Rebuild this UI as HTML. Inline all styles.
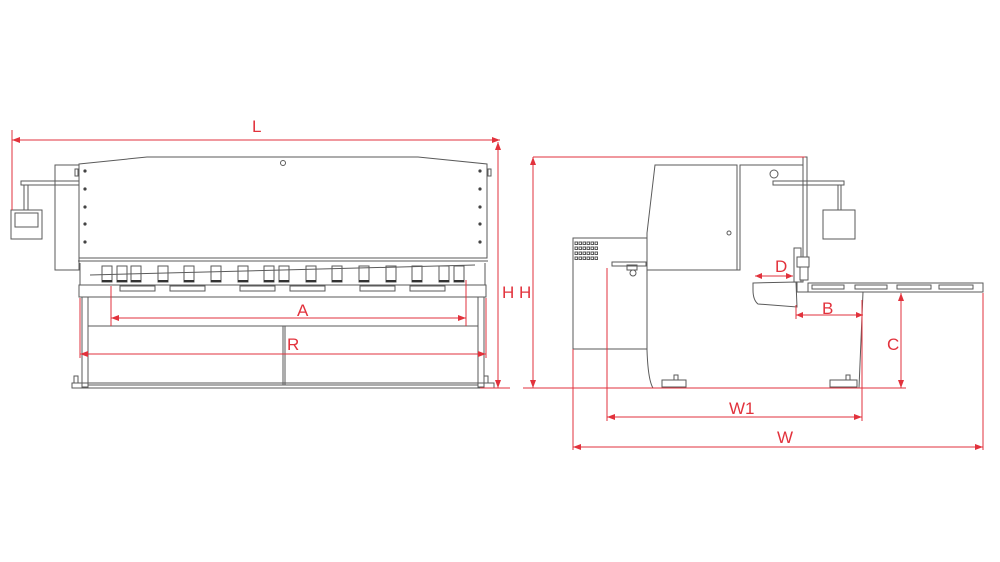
<!DOCTYPE html>
<html><head><meta charset="utf-8"><style>
html,body{margin:0;padding:0;background:#fff;}
svg{display:block;}
.g{fill:none;stroke:#5a5a5a;stroke-width:1;}
.gf{fill:#fff;stroke:#5a5a5a;stroke-width:1;}
.r{fill:none;stroke:#e2323c;stroke-width:1;}
.t{fill:#e2323c;font-family:"Liberation Sans",sans-serif;font-size:17px;}
.ah{fill:#e2323c;}
</style></head><body>
<svg width="1000" height="562" viewBox="0 0 1000 562" xmlns="http://www.w3.org/2000/svg">
<rect class="g" x="55" y="165" width="24" height="105"/>
<rect class="g" x="21" y="181" width="58" height="4"/>
<rect class="g" x="24" y="185" width="4" height="25"/>
<rect class="gf" x="11" y="210" width="31" height="29"/>
<rect class="g" x="15" y="213" width="23" height="14"/>
<path class="gf" d="M79 164 L147 157 L418 157 L487 164 L487 258 L79 258 Z"/>
<line class="g" x1="78" y1="261" x2="488" y2="261"/>
<circle class="g" cx="283" cy="163" r="2.5"/>
<g fill="#444">
<circle cx="85" cy="171" r="1.6"/><circle cx="85" cy="189" r="1.6"/><circle cx="85" cy="207" r="1.6"/><circle cx="85" cy="224" r="1.6"/><circle cx="85" cy="242" r="1.6"/>
<circle cx="480" cy="171" r="1.6"/><circle cx="480" cy="189" r="1.6"/><circle cx="480" cy="207" r="1.6"/><circle cx="480" cy="224" r="1.6"/><circle cx="480" cy="242" r="1.6"/>
</g>
<rect class="g" x="75" y="169" width="3" height="7"/>
<rect class="g" x="488" y="169" width="3" height="7"/>
<line class="g" x1="80" y1="263" x2="80" y2="285"/><line class="g" x1="485" y1="263" x2="485" y2="285"/>
<line class="g" x1="90" y1="275" x2="475" y2="265"/>
<g class="g">
<rect x="102" y="266" width="10" height="16"/><rect x="117" y="266" width="10" height="16"/><rect x="131" y="266" width="10" height="16"/>
<rect x="158" y="266" width="10" height="16"/><rect x="184" y="266" width="10" height="16"/><rect x="211" y="266" width="10" height="16"/>
<rect x="238" y="266" width="10" height="16"/><rect x="264" y="266" width="10" height="16"/><rect x="279" y="266" width="10" height="16"/>
<rect x="306" y="266" width="10" height="16"/><rect x="332" y="266" width="10" height="16"/><rect x="359" y="266" width="10" height="16"/>
<rect x="386" y="266" width="10" height="16"/><rect x="412" y="266" width="10" height="16"/><rect x="439" y="266" width="10" height="16"/>
<rect x="454" y="266" width="10" height="16"/>
</g>
<g stroke="#333" stroke-width="2">
<line x1="102" y1="281" x2="112" y2="281"/><line x1="117" y1="281" x2="127" y2="281"/><line x1="131" y1="281" x2="141" y2="281"/><line x1="158" y1="281" x2="168" y2="281"/><line x1="184" y1="281" x2="194" y2="281"/><line x1="211" y1="281" x2="221" y2="281"/><line x1="238" y1="281" x2="248" y2="281"/><line x1="264" y1="281" x2="274" y2="281"/><line x1="279" y1="281" x2="289" y2="281"/><line x1="306" y1="281" x2="316" y2="281"/><line x1="332" y1="281" x2="342" y2="281"/><line x1="359" y1="281" x2="369" y2="281"/><line x1="386" y1="281" x2="396" y2="281"/><line x1="412" y1="281" x2="422" y2="281"/><line x1="439" y1="281" x2="449" y2="281"/><line x1="454" y1="281" x2="464" y2="281"/>
</g>
<rect class="gf" x="79" y="285" width="407" height="12"/>
<g class="g">
<rect x="120" y="286" width="35" height="5"/><rect x="170" y="286" width="35" height="5"/><rect x="240" y="286" width="35" height="5"/>
<rect x="290" y="286" width="35" height="5"/><rect x="360" y="286" width="35" height="5"/><rect x="410" y="286" width="35" height="5"/>
</g>
<rect class="g" x="82" y="297" width="6" height="90"/>
<rect class="g" x="478" y="297" width="6" height="90"/>
<rect class="g" x="88" y="326" width="390" height="59"/>
<line class="g" x1="283" y1="326" x2="283" y2="385"/>
<line class="g" x1="285" y1="326" x2="285" y2="385"/>
<rect class="g" x="72" y="383" width="422" height="5"/>
<rect class="g" x="74" y="376" width="4" height="7"/>
<rect class="g" x="484" y="376" width="4" height="7"/>
<line class="r" x1="12" y1="130" x2="12" y2="210"/>
<line class="r" x1="12" y1="140" x2="500" y2="140"/>
<path class="ah" d="M12 140 l8 -3 v6 Z M500 140 l-8 -3 v6 Z"/>
<text class="t" x="252" y="132">L</text>
<line class="r" x1="111" y1="286" x2="111" y2="326"/>
<line class="r" x1="466" y1="280" x2="466" y2="326"/>
<line class="r" x1="111" y1="318" x2="466" y2="318"/>
<path class="ah" d="M111 318 l8 -3 v6 Z M466 318 l-8 -3 v6 Z"/>
<text class="t" x="297" y="316">A</text>
<line class="r" x1="80" y1="298" x2="80" y2="358"/>
<line class="r" x1="486" y1="298" x2="486" y2="358"/>
<line class="r" x1="80" y1="354" x2="486" y2="354"/>
<path class="ah" d="M80 354 l8 -3 v6 Z M486 354 l-8 -3 v6 Z"/>
<text class="t" x="287" y="350">R</text>
<line class="r" x1="498" y1="142" x2="498" y2="388"/>
<path class="ah" d="M498 142 l-3 8 h6 Z M498 388 l-3 -8 h6 Z"/>
<line class="r" x1="480" y1="388" x2="510" y2="388"/>
<text class="t" x="502" y="298">H H</text>

<rect class="gf" x="573" y="238" width="74" height="111"/>
<g class="g" stroke-width="0.8">
<rect x="575" y="242" width="2.5" height="2.5"/><rect x="579" y="242" width="2.5" height="2.5"/><rect x="583" y="242" width="2.5" height="2.5"/><rect x="587" y="242" width="2.5" height="2.5"/><rect x="591" y="242" width="2.5" height="2.5"/><rect x="595" y="242" width="2.5" height="2.5"/>
<rect x="575" y="247" width="2.5" height="2.5"/><rect x="579" y="247" width="2.5" height="2.5"/><rect x="583" y="247" width="2.5" height="2.5"/><rect x="587" y="247" width="2.5" height="2.5"/><rect x="591" y="247" width="2.5" height="2.5"/><rect x="595" y="247" width="2.5" height="2.5"/>
<rect x="575" y="252" width="2.5" height="2.5"/><rect x="579" y="252" width="2.5" height="2.5"/><rect x="583" y="252" width="2.5" height="2.5"/><rect x="587" y="252" width="2.5" height="2.5"/><rect x="591" y="252" width="2.5" height="2.5"/><rect x="595" y="252" width="2.5" height="2.5"/>
<rect x="575" y="257" width="2.5" height="2.5"/><rect x="579" y="257" width="2.5" height="2.5"/><rect x="583" y="257" width="2.5" height="2.5"/><rect x="587" y="257" width="2.5" height="2.5"/><rect x="591" y="257" width="2.5" height="2.5"/><rect x="595" y="257" width="2.5" height="2.5"/>
</g>
<path class="gf" d="M655 165 L737 165 L737 270 L740 270 L740 165 L803 165 L803 282 L797 282 L797 292 L863 292 L859 388 L653 388 Q648 380 647 350 L647 233 Z"/>
<line class="g" x1="647" y1="270" x2="737" y2="270"/>
<circle class="g" cx="729" cy="233" r="2"/>
<rect class="g" x="612" y="262" width="34" height="4"/>
<circle class="g" cx="633" cy="273" r="3"/>
<rect class="g" x="627" y="265" width="10" height="5"/>
<path class="gf" d="M753 283 L796 282 L797 307 L758 304 Q753 300 753 290 Z"/>
<rect class="gf" x="803" y="157" width="4" height="103"/>
<circle class="g" cx="774" cy="174" r="4"/>
<rect class="g" x="773" y="181" width="71" height="4"/>
<rect class="g" x="838" y="185" width="3" height="25"/>
<rect class="gf" x="823" y="210" width="32" height="29"/>
<rect class="gf" x="794" y="248" width="7" height="34"/>
<rect class="gf" x="797" y="257" width="12" height="10"/>
<rect class="gf" x="800" y="267" width="8" height="13"/>
<rect class="gf" x="808" y="283" width="175" height="9"/>
<g class="g"><rect x="812" y="285" width="32" height="4"/><rect x="855" y="285" width="32" height="4"/><rect x="897" y="285" width="34" height="4"/><rect x="939" y="285" width="34" height="4"/></g>
<rect class="g" x="662" y="380" width="24" height="7"/>
<rect class="g" x="674" y="375" width="4" height="5"/>
<rect class="g" x="830" y="380" width="27" height="7"/>
<rect class="g" x="846" y="375" width="4" height="5"/>
<line class="r" x1="533" y1="157" x2="805" y2="157"/>
<line class="r" x1="533" y1="157" x2="533" y2="388"/>
<path class="ah" d="M533 157 l-3 8 h6 Z M533 388 l-3 -8 h6 Z"/>
<line class="r" x1="523" y1="388" x2="906" y2="388"/>
<line class="r" x1="755" y1="276" x2="793" y2="276"/>
<path class="ah" d="M755 276 l7 -3 v6 Z M793 276 l-7 -3 v6 Z"/>
<text class="t" x="775" y="272">D</text>
<line class="r" x1="796" y1="305" x2="796" y2="319"/>
<line class="r" x1="796" y1="315" x2="863" y2="315"/>
<path class="ah" d="M796 315 l7 -3 v6 Z M863 315 l-7 -3 v6 Z"/>
<text class="t" x="822" y="314">B</text>
<line class="r" x1="901" y1="293" x2="901" y2="388"/>
<path class="ah" d="M901 293 l-3 8 h6 Z M901 388 l-3 -8 h6 Z"/>
<text class="t" x="887" y="350">C</text>
<line class="r" x1="607" y1="268" x2="607" y2="421"/>
<line class="r" x1="862" y1="300" x2="862" y2="421"/>
<line class="r" x1="607" y1="417" x2="862" y2="417"/>
<path class="ah" d="M607 417 l8 -3 v6 Z M862 417 l-8 -3 v6 Z"/>
<text class="t" x="729" y="414">W1</text>
<line class="r" x1="573" y1="349" x2="573" y2="450"/>
<line class="r" x1="983" y1="293" x2="983" y2="450"/>
<line class="r" x1="573" y1="447" x2="983" y2="447"/>
<path class="ah" d="M573 447 l8 -3 v6 Z M983 447 l-8 -3 v6 Z"/>
<text class="t" x="777" y="443">W</text>
</svg>
</body></html>
